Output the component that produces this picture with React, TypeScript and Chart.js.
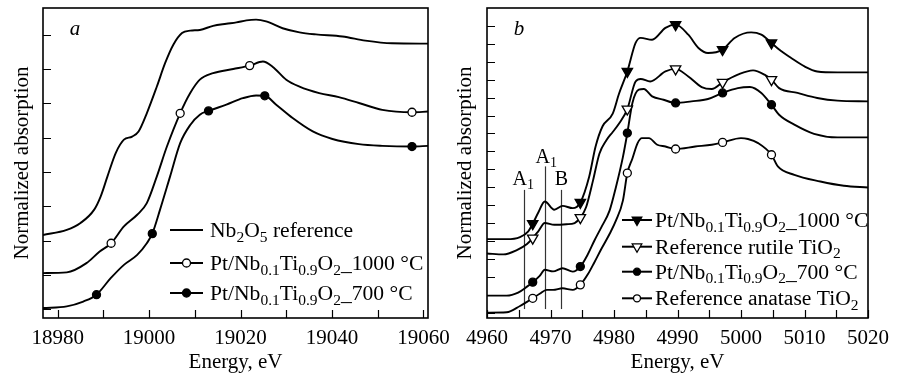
import React, { useEffect, useRef } from 'react';
import { Chart, registerables } from 'chart.js';

Chart.register(...registerables);

const SERIF = '"Liberation Serif", "Times New Roman", Times, serif';

// ---------------- Panel a : Nb K-edge ----------------
const A_X_MIN = 18976.8;
const A_X_MAX = 19061;
const A_Y_MIN = -0.26;
const A_Y_MAX = 8.78;
const A_X_LABELS = [18980, 19000, 19020, 19040, 19060];
const A_X_MARKS = [18980, 18990, 19000, 19010, 19020, 19030, 19040, 19050, 19060];
const A_Y_MARKS = [0, 1, 2, 3, 4, 5, 6, 7, 8];

const A_REF_E = [18976.8, 18982, 18985, 18988, 18989.4, 18990.9, 18992.7, 18994.5, 18996.3, 18997.7, 18999.5, 19001.7, 19003.5, 19005.3, 19007.2, 19009, 19011.1, 19014, 19016.9, 19019.1, 19021.3, 19023.4, 19025.6, 19029.2, 19032.9, 19036.5, 19042.3, 19047.3, 19053.1, 19061];
const A_REF_Y = [2.16, 2.31, 2.51, 2.9, 3.28, 3.87, 4.55, 4.94, 5.03, 5.18, 5.71, 6.49, 7.17, 7.71, 8.05, 8.12, 8.14, 8.26, 8.32, 8.36, 8.42, 8.44, 8.39, 8.19, 8.07, 8.01, 7.95, 7.83, 7.75, 7.74];

const A_1000_E = [18976.8, 18982, 18986.3, 18989.2, 18991.7, 18994.5, 18997.4, 18999.5, 19001.7, 19003.9, 19006.8, 19009, 19011.1, 19014, 19018.4, 19022, 19024.9, 19027, 19030, 19032.9, 19037.2, 19041.5, 19045.9, 19051, 19057.5, 19061];
const A_1000_Y = [1.05, 1.07, 1.34, 1.68, 1.92, 2.41, 2.75, 3.09, 3.87, 4.74, 5.71, 6.3, 6.69, 6.88, 7.0, 7.1, 7.22, 7.07, 6.69, 6.49, 6.3, 6.18, 6.01, 5.81, 5.74, 5.76];
const A_1000_MARKS = [18991.7, 19006.8, 19022, 19057.5];

const A_700_E = [18976.8, 18982, 18985.6, 18988.5, 18991.6, 18994.5, 18997.4, 18999.5, 19000.7, 19002.4, 19004.6, 19006.8, 19009, 19011.1, 19013, 19016.9, 19020.5, 19023.4, 19025.3, 19027.8, 19031.4, 19035.8, 19040.1, 19045.9, 19051, 19057.5, 19061];
const A_700_Y = [0.03, 0.08, 0.22, 0.42, 0.9, 1.29, 1.58, 1.92, 2.2, 2.9, 3.87, 4.84, 5.37, 5.67, 5.78, 5.96, 6.15, 6.23, 6.22, 5.96, 5.57, 5.18, 4.96, 4.81, 4.76, 4.74, 4.76];
const A_700_MARKS = [18988.5, 19000.7, 19013, 19025.3, 19057.5];

const A_LABELS = ['Nb{2}O{5} reference', 'Pt/Nb{0.1}Ti{0.9}O{2}_1000 °C', 'Pt/Nb{0.1}Ti{0.9}O{2}_700 °C'];

// ---------------- Panel b : Ti K-edge ----------------
const B_X_MIN = 4960;
const B_X_MAX = 5020;
const B_Y_MIN = -0.3;
const B_Y_MAX = 17.0;
const B_X_LABELS = [4960, 4970, 4980, 4990, 5000, 5010, 5020];
const B_X_MARKS = [4960, 4965, 4970, 4975, 4980, 4985, 4990, 4995, 5000, 5005, 5010, 5015, 5020];
const B_Y_MARKS = [0, 1, 2, 3, 4, 5, 6, 7, 8, 9, 10, 11, 12, 13, 14, 15, 16];
const B_MARKS = [4967.2, 4974.7, 4982.1, 4989.7, 4997.1, 5004.8];

const B_1000_E = [4960, 4963.1, 4965.2, 4966.5, 4967.2, 4968.1, 4969.1, 4970.6, 4971.9, 4973.5, 4974.7, 4976.1, 4977.1, 4978.2, 4979.8, 4980.8, 4982.1, 4983.4, 4984.2, 4986.0, 4988.1, 4989.7, 4991.7, 4993.3, 4994.8, 4997.1, 4999.0, 5001.6, 5003.2, 5004.8, 5006.0, 5007.9, 5010.0, 5012.0, 5015.2, 5020];
const B_1000_Y = [4.1, 4.1, 4.22, 4.54, 4.96, 5.6, 6.2, 5.74, 5.96, 5.83, 6.15, 7.6, 9.27, 10.4, 11.11, 12.23, 13.46, 15.05, 15.33, 15.23, 15.89, 16.07, 15.51, 14.77, 14.49, 14.68, 15.33, 15.64, 15.51, 15.05, 14.68, 14.21, 13.74, 13.46, 13.41, 13.41];

const B_RUT_E = [4960, 4962.6, 4964.7, 4966.3, 4967.2, 4968.1, 4969.1, 4970.6, 4972.5, 4973.8, 4974.7, 4975.6, 4976.7, 4977.7, 4978.8, 4979.8, 4980.8, 4982.1, 4983.4, 4984.2, 4985.7, 4988.1, 4989.7, 4991.7, 4993.8, 4995.4, 4997.1, 4999.5, 5001.9, 5003.7, 5004.8, 5006.0, 5008.9, 5012.0, 5015.2, 5020];
const B_RUT_Y = [3.3, 3.25, 3.49, 3.83, 4.16, 4.55, 5.0, 4.9, 4.93, 5.0, 5.3, 5.88, 7.38, 8.87, 9.62, 10.08, 10.55, 11.36, 12.9, 13.04, 12.9, 13.46, 13.6, 13.18, 12.59, 12.48, 12.85, 13.28, 13.52, 13.28, 13.0, 12.53, 12.26, 11.98, 11.83, 11.79];

const B_700_E = [4960, 4963.1, 4964.9, 4966.3, 4967.2, 4968.3, 4969.1, 4970.4, 4971.9, 4973.5, 4974.7, 4975.9, 4976.9, 4978.0, 4979.3, 4980.3, 4981.4, 4982.1, 4982.9, 4983.9, 4984.7, 4986.0, 4987.8, 4989.7, 4992.2, 4994.8, 4997.1, 4999.5, 5001.4, 5003.2, 5004.8, 5006.0, 5008.4, 5011.5, 5015.2, 5020];
const B_700_Y = [0.95, 0.95, 1.12, 1.45, 1.7, 2.05, 2.39, 2.3, 2.48, 2.29, 2.57, 3.27, 4.01, 4.76, 5.69, 7.0, 8.68, 10.02, 11.7, 12.44, 12.48, 12.07, 11.88, 11.7, 11.79, 11.92, 12.26, 12.53, 12.59, 12.26, 11.6, 11.04, 10.49, 9.98, 9.78, 9.78];

const B_ANA_E = [4960, 4963.1, 4965.2, 4966.3, 4967.2, 4968.3, 4969.4, 4970.4, 4971.9, 4973.5, 4974.7, 4975.9, 4976.9, 4978.0, 4979.3, 4980.3, 4981.4, 4982.1, 4982.9, 4983.7, 4984.4, 4985.5, 4986.8, 4988.1, 4989.7, 4992.8, 4995.4, 4997.1, 5000.0, 5001.1, 5002.7, 5004.8, 5005.8, 5008.4, 5012.5, 5016.2, 5020];
const B_ANA_Y = [0.0, 0.02, 0.37, 0.6, 0.8, 1.05, 1.27, 1.27, 1.36, 1.27, 1.55, 2.15, 2.8, 3.55, 4.39, 5.13, 6.25, 7.79, 8.6, 9.45, 9.74, 9.74, 9.37, 9.27, 9.13, 9.27, 9.37, 9.5, 9.74, 9.69, 9.46, 8.81, 8.16, 7.69, 7.32, 7.08, 6.98];

const B_LABELS = ['Pt/Nb{0.1}Ti{0.9}O{2}_1000 °C', 'Reference rutile TiO{2}', 'Pt/Nb{0.1}Ti{0.9}O{2}_700 °C', 'Reference anatase TiO{2}'];

// vertical guide lines (pre-edge features)
const B_VLINE_E = [4965.9, 4969.2, 4971.7];
const B_VLINE_TOP = [6.85, 8.16, 6.85];
const B_VLINE_BOTTOM = 0.2;
const B_VLINE_TEXT = ['A{1}', 'A{1}', 'B'];

type MarkerKind = 'none' | 'circle' | 'triangle';
interface Series {
  label: string;
  e: number[];
  y: number[];
  marker: MarkerKind;
  filled: boolean;
  marks: number[];
}

interface Panel {
  letter: string;
  xMin: number; xMax: number; yMin: number; yMax: number;
  xLabels: number[]; xMarks: number[]; yMarks: number[];
  series: Series[];
  yAxisWidth: number; yTitlePad: number; padRight: number;
  curveR: { circle: number; triangle: number };
  legend: { x0: number; x1: number; tx: number; rows: number[]; r: { circle: number; triangle: number } };
  vlines?: { e: number[]; top: number[]; bottom: number; text: string[]; dx: number[]; dy: number[]; align: CanvasTextAlign[] };
}

function parseRich(s: string) {
  const out: { t: string; sub: boolean }[] = [];
  const re = /\{([^}]*)\}|([^{]+)/g;
  let m: RegExpExecArray | null;
  while ((m = re.exec(s))) {
    if (m[1] !== undefined) out.push({ t: m[1], sub: true });
    else out.push({ t: m[2], sub: false });
  }
  return out;
}

function richWidth(ctx: CanvasRenderingContext2D, s: string, size: number, subSize: number) {
  let w = 0;
  for (const seg of parseRich(s)) {
    ctx.font = `${seg.sub ? subSize : size}px ${SERIF}`;
    w += ctx.measureText(seg.t).width;
  }
  return w;
}

function drawRich(ctx: CanvasRenderingContext2D, s: string, x: number, y: number, size: number, subSize: number, subDy: number) {
  let cx = x;
  ctx.textAlign = 'left';
  ctx.textBaseline = 'alphabetic';
  for (const seg of parseRich(s)) {
    ctx.font = `${seg.sub ? subSize : size}px ${SERIF}`;
    ctx.fillText(seg.t, cx, seg.sub ? y + subDy : y);
    cx += ctx.measureText(seg.t).width;
  }
}

function drawMarker(ctx: CanvasRenderingContext2D, kind: MarkerKind, filled: boolean, x: number, y: number, r: number) {
  if (kind === 'none') return;
  ctx.beginPath();
  if (kind === 'circle') {
    ctx.arc(x, y, r, 0, Math.PI * 2);
  } else {
    ctx.moveTo(x, y + r);
    ctx.lineTo(x - r * 0.866, y - r * 0.5);
    ctx.lineTo(x + r * 0.866, y - r * 0.5);
    ctx.closePath();
  }
  ctx.fillStyle = filled ? '#000' : '#fff';
  ctx.fill();
  ctx.lineWidth = 1.3;
  ctx.strokeStyle = '#000';
  ctx.stroke();
}

function makePlugin(p: Panel) {
  return {
    id: 'panelDeco',
    beforeDatasetsDraw(chart: any) {
      if (!p.vlines) return;
      const ctx: CanvasRenderingContext2D = chart.ctx;
      const xs = chart.scales.x;
      const ys = chart.scales.y;
      const v = p.vlines;
      ctx.save();
      v.e.forEach((e, i) => {
        const px = Math.round(xs.getPixelForValue(e)) + 0.5;
        const top = ys.getPixelForValue(v.top[i]);
        const bot = ys.getPixelForValue(v.bottom);
        ctx.beginPath();
        ctx.moveTo(px, top);
        ctx.lineTo(px, bot);
        ctx.strokeStyle = '#333';
        ctx.lineWidth = 1.2;
        ctx.stroke();
        ctx.fillStyle = '#000';
        const w = richWidth(ctx, v.text[i], 20, 14);
        const tx = v.align[i] === 'center' ? px - w / 2 + v.dx[i] : px + v.dx[i];
        drawRich(ctx, v.text[i], tx, top + v.dy[i], 20, 14, 4);
      });
      ctx.restore();
    },
    afterDatasetsDraw(chart: any) {
      const ctx: CanvasRenderingContext2D = chart.ctx;
      const { left, right, top, bottom } = chart.chartArea;
      const xs = chart.scales.x;
      const ys = chart.scales.y;
      ctx.save();
      // frame
      ctx.strokeStyle = '#000';
      ctx.lineWidth = 1.6;
      ctx.strokeRect(left, top, right - left, bottom - top);
      // inward tick marks
      ctx.lineWidth = 1.2;
      ctx.beginPath();
      p.xMarks.forEach((v) => {
        const px = Math.round(xs.getPixelForValue(v)) + 0.5;
        ctx.moveTo(px, bottom);
        ctx.lineTo(px, bottom - 8);
      });
      p.yMarks.forEach((v) => {
        const py = Math.round(ys.getPixelForValue(v)) + 0.5;
        ctx.moveTo(left, py);
        ctx.lineTo(left + 8, py);
      });
      ctx.stroke();
      // panel letter
      ctx.fillStyle = '#000';
      ctx.font = `italic 21px ${SERIF}`;
      ctx.textAlign = 'center';
      ctx.textBaseline = 'alphabetic';
      ctx.fillText(p.letter, left + 32, top + 27);
      // legend
      const L = p.legend;
      p.series.forEach((s, i) => {
        const y = L.rows[i];
        ctx.beginPath();
        ctx.moveTo(L.x0, y);
        ctx.lineTo(L.x1, y);
        ctx.strokeStyle = '#000';
        ctx.lineWidth = 2;
        ctx.stroke();
        const r = s.marker === 'triangle' ? L.r.triangle : L.r.circle;
        drawMarker(ctx, s.marker, s.filled, (L.x0 + L.x1) / 2, y, r);
        ctx.fillStyle = '#000';
        drawRich(ctx, s.label, L.tx, y + 7, 21.6, 15.5, 4.5);
      });
      ctx.restore();
    },
  };
}

function buildConfig(p: Panel): any {
  const datasets = p.series.map((s) => {
    const markSet = new Set(s.marks);
    const r = s.marker === 'triangle' ? p.curveR.triangle : p.curveR.circle;
    const radius = (c: any) => (s.marker !== 'none' && c.raw && markSet.has(c.raw.x) ? r : 0);
    return {
      label: s.label,
      data: s.e.map((e, i) => ({ x: e, y: s.y[i] })),
      borderColor: '#000',
      borderWidth: 1.9,
      fill: false,
      cubicInterpolationMode: 'monotone',
      pointStyle: s.marker === 'triangle' ? 'triangle' : 'circle',
      pointRotation: s.marker === 'triangle' ? 180 : 0,
      pointRadius: radius,
      pointHoverRadius: radius,
      pointBackgroundColor: s.filled ? '#000' : '#fff',
      pointBorderColor: '#000',
      pointBorderWidth: 1.3,
    };
  });
  const tickFont = { family: SERIF, size: 21 };
  return {
    type: 'line',
    data: { datasets },
    options: {
      animation: false,
      responsive: false,
      maintainAspectRatio: false,
      devicePixelRatio: 1,
      events: [],
      layout: { padding: { left: 0, top: 8, right: p.padRight, bottom: 0 } },
      plugins: { legend: { display: false }, tooltip: { enabled: false }, title: { display: false } },
      scales: {
        x: {
          type: 'linear',
          min: p.xMin,
          max: p.xMax,
          afterBuildTicks: (s: any) => {
            s.ticks = p.xLabels.map((v) => ({ value: v }));
          },
          afterFit: (s: any) => {
            s.height = 62;
          },
          ticks: { font: tickFont, color: '#000', padding: 8, maxRotation: 0, autoSkip: false, callback: (v: any) => String(v) },
          grid: { display: false, drawTicks: false },
          border: { display: false },
          title: { display: true, text: 'Energy, eV', font: { family: SERIF, size: 21 }, color: '#000', padding: { top: 0, bottom: 5 } },
        },
        y: {
          type: 'linear',
          min: p.yMin,
          max: p.yMax,
          afterFit: (s: any) => {
            s.width = p.yAxisWidth;
          },
          ticks: { display: false },
          grid: { display: false, drawTicks: false },
          border: { display: false },
          title: { display: true, text: 'Normalized absorption', font: { family: SERIF, size: 21 }, color: '#000', padding: { top: p.yTitlePad, bottom: 0 } },
        },
      },
    },
    plugins: [makePlugin(p)],
  };
}

const PANEL_A: Panel = {
  letter: 'a',
  xMin: A_X_MIN, xMax: A_X_MAX, yMin: A_Y_MIN, yMax: A_Y_MAX,
  xLabels: A_X_LABELS, xMarks: A_X_MARKS, yMarks: A_Y_MARKS,
  series: [
    { label: A_LABELS[0], e: A_REF_E, y: A_REF_Y, marker: 'none', filled: false, marks: [] },
    { label: A_LABELS[1], e: A_1000_E, y: A_1000_Y, marker: 'circle', filled: false, marks: A_1000_MARKS },
    { label: A_LABELS[2], e: A_700_E, y: A_700_Y, marker: 'circle', filled: true, marks: A_700_MARKS },
  ],
  yAxisWidth: 43, yTitlePad: 10, padRight: 32,
  curveR: { circle: 4, triangle: 6 },
  legend: { x0: 170, x1: 203, tx: 210, rows: [230, 263, 293], r: { circle: 4, triangle: 5.5 } },
};

const PANEL_B: Panel = {
  letter: 'b',
  xMin: B_X_MIN, xMax: B_X_MAX, yMin: B_Y_MIN, yMax: B_Y_MAX,
  xLabels: B_X_LABELS, xMarks: B_X_MARKS, yMarks: B_Y_MARKS,
  series: [
    { label: B_LABELS[0], e: B_1000_E, y: B_1000_Y, marker: 'triangle', filled: true, marks: B_MARKS },
    { label: B_LABELS[1], e: B_RUT_E, y: B_RUT_Y, marker: 'triangle', filled: false, marks: B_MARKS },
    { label: B_LABELS[2], e: B_700_E, y: B_700_Y, marker: 'circle', filled: true, marks: B_MARKS },
    { label: B_LABELS[3], e: B_ANA_E, y: B_ANA_Y, marker: 'circle', filled: false, marks: B_MARKS },
  ],
  yAxisWidth: 40, yTitlePad: 6, padRight: 26,
  curveR: { circle: 4, triangle: 6 },
  legend: { x0: 175, x1: 205, tx: 208, rows: [220, 246.7, 271.7, 298.3], r: { circle: 3.5, triangle: 5.5 } },
  vlines: {
    e: B_VLINE_E, top: B_VLINE_TOP, bottom: B_VLINE_BOTTOM, text: B_VLINE_TEXT,
    dx: [-12, -10, 0], dy: [-5, -3, -5], align: ['left', 'left', 'center'],
  },
};

function PanelChart({ panel, left, width }: { panel: Panel; left: number; width: number }) {
  const ref = useRef<HTMLCanvasElement>(null);
  useEffect(() => {
    const chart = new Chart(ref.current as HTMLCanvasElement, buildConfig(panel));
    return () => chart.destroy();
  }, [panel]);
  return (
    <canvas
      ref={ref}
      width={width}
      height={380}
      style={{ position: 'absolute', left, top: 0, width, height: 380, display: 'block' }}
    />
  );
}

export default function App() {
  return (
    <div style={{ position: 'absolute', left: 0, top: 0, width: 897, height: 380, background: '#fff', overflow: 'hidden' }}>
      <PanelChart panel={PANEL_A} left={0} width={460} />
      <PanelChart panel={PANEL_B} left={447} width={450} />
    </div>
  );
}
